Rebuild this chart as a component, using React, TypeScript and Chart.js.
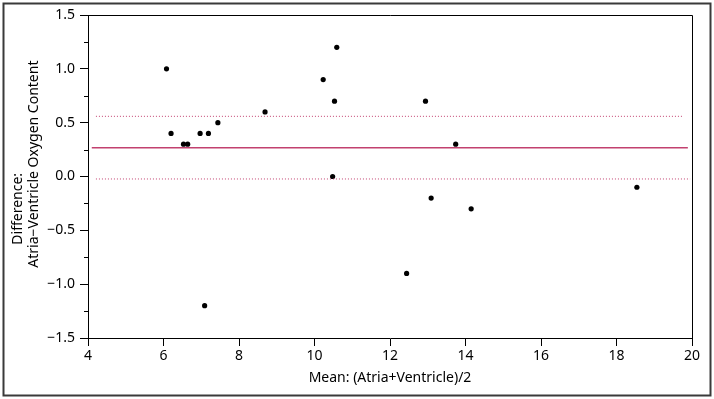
import React, { useEffect, useRef } from "react";
import { Chart, registerables } from "chart.js";

Chart.register(...registerables);

// Mean of the two measurements (x) and their difference (y)
const meanValues = [6.08, 6.2, 6.53, 6.64, 6.97, 7.19, 7.44, 8.69, 10.23, 10.59, 10.53, 10.48, 12.94, 13.74, 13.09, 18.54, 7.09, 14.15, 12.44];
const diffValues = [1.0, 0.4, 0.3, 0.3, 0.4, 0.4, 0.5, 0.6, 0.9, 1.2, 0.7, 0.0, 0.7, 0.3, -0.2, -0.1, -1.2, -0.3, -0.9];

// Mean difference and its limits
const biasValue = 0.268;
const upperLimit = 0.559;
const lowerLimit = -0.023;
const biasLineX = [4.1, 19.89];
const upperLineX = [4.21, 19.76];
const lowerLineX = [4.21, 19.95];

const xTicks = [4, 6, 8, 10, 12, 14, 16, 18, 20];
const yTicks = [-1.5, -1.0, -0.5, 0.0, 0.5, 1.0, 1.5];
const yMinorTicks = [-1.25, -0.75, -0.25, 0.25, 0.75, 1.25];

const xTitle = "Mean: (Atria+Ventricle)/2";
const yTitle = ["Difference:", "Atria\u2212Ventricle Oxygen Content"];

const LINE_COLOR = "#c2416f";
const FONT = "'Noto Sans', sans-serif";
const TITLE_SIZE = 14;

const framePlugin = {
  id: "framePlugin",
  beforeDraw(chart: any) {
    const ctx = chart.ctx;
    ctx.save();
    ctx.fillStyle = "#ffffff";
    ctx.fillRect(0, 0, chart.width, chart.height);
    ctx.strokeStyle = "#3a3a3a";
    ctx.lineWidth = 2;
    ctx.strokeRect(3.5, 3.5, chart.width - 7, chart.height - 7);
    ctx.restore();
  },
  afterDraw(chart: any) {
    const ctx = chart.ctx;
    const a = chart.chartArea;
    const ys = chart.scales.y;
    ctx.save();
    ctx.strokeStyle = "#000000";
    ctx.lineWidth = 1;
    ctx.beginPath();
    ctx.moveTo(a.left, a.top + 0.5);
    ctx.lineTo(a.right + 0.5, a.top + 0.5);
    ctx.lineTo(a.right + 0.5, a.bottom);
    ctx.stroke();
    ctx.beginPath();
    for (const v of yMinorTicks) {
      const py = Math.round(ys.getPixelForValue(v)) + 0.5;
      ctx.moveTo(a.left - 4, py);
      ctx.lineTo(a.left, py);
    }
    ctx.stroke();

    // y axis title, two rotated lines
    ctx.fillStyle = "#000000";
    ctx.font = `${TITLE_SIZE}px ${FONT}`;
    ctx.textAlign = "center";
    ctx.textBaseline = "middle";
    const centers = [
      [18, ys.getPixelForValue(-0.3)],
      [34, ys.getPixelForValue(0.115)],
    ];
    yTitle.forEach((t, i) => {
      ctx.save();
      ctx.translate(centers[i][0], centers[i][1]);
      ctx.rotate(-Math.PI / 2);
      ctx.fillText(t, 0, 0);
      ctx.restore();
    });
    ctx.restore();
  },
};

export default function App() {
  const ref = useRef<HTMLCanvasElement | null>(null);

  useEffect(() => {
    document.body.style.margin = "0";
    const canvas = ref.current;
    if (!canvas) return;
    const points = meanValues.map((x, i) => ({ x, y: diffValues[i] }));
    const chart = new Chart(canvas, {
      type: "scatter",
      data: {
        datasets: [
          {
            type: "line",
            data: [
              { x: upperLineX[0], y: upperLimit },
              { x: upperLineX[1], y: upperLimit },
            ],
            borderColor: LINE_COLOR,
            borderWidth: 1,
            borderDash: [1, 2],
            pointRadius: 0,
            fill: false,
          },
          {
            type: "line",
            data: [
              { x: lowerLineX[0], y: lowerLimit },
              { x: lowerLineX[1], y: lowerLimit },
            ],
            borderColor: LINE_COLOR,
            borderWidth: 1,
            borderDash: [1, 2],
            pointRadius: 0,
            fill: false,
          },
          {
            type: "line",
            data: [
              { x: biasLineX[0], y: biasValue },
              { x: biasLineX[1], y: biasValue },
            ],
            borderColor: LINE_COLOR,
            borderWidth: 1.5,
            pointRadius: 0,
            fill: false,
          },
          {
            data: points,
            backgroundColor: "#000000",
            borderColor: "#000000",
            pointRadius: 2.6,
            pointBorderWidth: 0,
          },
        ],
      } as any,
      options: {
        responsive: false,
        animation: false,
        layout: { padding: { left: 0, top: 15, right: 22, bottom: 0 } },
        plugins: {
          legend: { display: false },
          tooltip: { enabled: false },
        },
        scales: {
          x: {
            type: "linear",
            min: 4,
            max: 20,
            afterBuildTicks(scale: any) {
              scale.ticks = xTicks.map((v) => ({ value: v }));
            },
            afterFit(scale: any) {
              scale.height = 61;
            },
            grid: {
              drawOnChartArea: false,
              drawTicks: true,
              tickLength: 8,
              color: "#000000",
            },
            border: { display: true, color: "#000000", width: 1 },
            ticks: {
              color: "#000000",
              padding: 2,
              maxRotation: 0,
              font: { family: FONT, size: 14 },
              callback: (v: any) => String(Number(v)),
            },
            title: {
              display: true,
              text: xTitle,
              color: "#000000",
              font: { family: FONT, size: TITLE_SIZE },
              padding: { top: 0, bottom: 13 },
            },
          },
          y: {
            type: "linear",
            min: -1.5,
            max: 1.5,
            afterBuildTicks(scale: any) {
              scale.ticks = yTicks.map((v) => ({ value: v }));
            },
            afterFit(scale: any) {
              scale.width = 88;
            },
            grid: {
              drawOnChartArea: false,
              drawTicks: true,
              tickLength: 8,
              color: "#000000",
            },
            border: { display: true, color: "#000000", width: 1 },
            ticks: {
              color: "#000000",
              padding: 5,
              font: { family: FONT, size: 14 },
              callback: (v: any) => Number(v).toFixed(1).replace("-", "\u2212"),
            },
            title: { display: false },
          },
        },
      } as any,
      plugins: [framePlugin],
    });
    return () => chart.destroy();
  }, []);

  return (
    <div style={{ position: "absolute", left: 0, top: 0, width: 714, height: 399 }}>
      <canvas ref={ref} width={714} height={399} style={{ display: "block" }} />
    </div>
  );
}
